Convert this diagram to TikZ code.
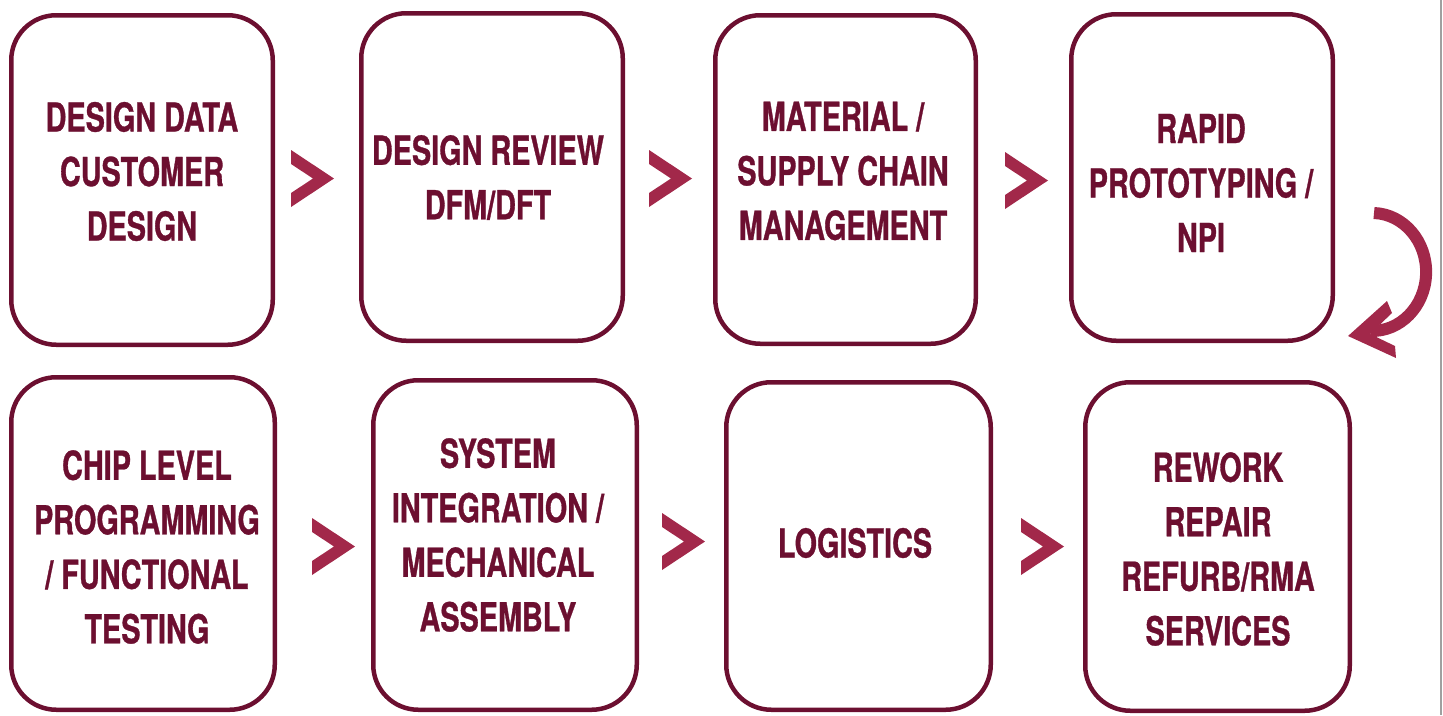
\documentclass[tikz,border=0pt]{standalone}
\usepackage{fontspec}
\setmainfont{TeX Gyre Heros}[FakeStretch=0.72, BoldFeatures={FakeBold=0.8}]
\definecolor{maroon}{HTML}{6C0F30}
\definecolor{chevc}{HTML}{A2284A}
\definecolor{edgegray}{HTML}{A0A0A0}
\tikzset{
  stepbox/.style={draw=maroon, line width=4.5pt, rounded corners=45pt, rectangle, inner sep=0pt},
  steptext/.style={text=maroon, font=\bfseries\fontsize{40}{54.5}\selectfont, align=center, inner sep=0pt},
  chevron/.pic={\fill[chevc] (0,0)--(43,28.5)--(0,57)--(0,43)--(22,28.5)--(0,14)--cycle;}
}
\begin{document}
\begin{tikzpicture}[x=1pt,y=-1pt]
\useasboundingbox (0,0) rectangle (1443,715);
% boxes
\node[stepbox, minimum width=261.5pt, minimum height=329.5pt] (b1) at (142,180) {};
\node[stepbox, minimum width=261.5pt, minimum height=327.5pt] (b2) at (492,177) {};
\node[stepbox, minimum width=260.5pt, minimum height=328.5pt] (b3) at (845.5,179.5) {};
\node[stepbox, minimum width=261.5pt, minimum height=326.5pt] (b4) at (1202,177.5) {};
\node[stepbox, minimum width=263.5pt, minimum height=332.5pt] (b5) at (143,543.5) {};
\node[stepbox, minimum width=263.5pt, minimum height=329.5pt] (b6) at (505,545) {};
\node[stepbox, minimum width=264.5pt, minimum height=327.5pt] (b7) at (858.5,546) {};
\node[stepbox, minimum width=264.5pt, minimum height=328.5pt] (b8) at (1217.5,546.5) {};
% texts
\node[steptext] (t1) at (142,171.5) {DESIGN DATA\\CUSTOMER\\DESIGN};
\node[steptext] (t2) at (488,177.5) {DESIGN REVIEW\\DFM/DFT};
\node[steptext] (t3) at (843,171) {MATERIAL /\\SUPPLY CHAIN\\MANAGEMENT};
\node[steptext] (t4) at (1201,183) {RAPID\\PROTOTYPING /\\NPI};
\node[steptext] (t5) at (147,547) {CHIP LEVEL\\PROGRAMMING\\/ FUNCTIONAL\\TESTING};
\node[steptext] (t6) at (498,535) {SYSTEM\\INTEGRATION /\\MECHANICAL\\ASSEMBLY};
\node[steptext] (t7) at (855,543) {LOGISTICS};
\node[steptext] (t8) at (1218,549) {REWORK\\REPAIR\\REFURB/RMA\\SERVICES};
% chevrons
\pic (c1) at (291,150) {chevron};
\pic (c2) at (649,150) {chevron};
\pic (c3) at (1005,152) {chevron};
\pic (c4) at (312,518) {chevron};
\pic (c5) at (662,513) {chevron};
\pic (c6) at (1021,518) {chevron};
% curved arrow
\coordinate (arcstart) at (1374,213);
\draw[chevc, line width=12pt] (arcstart) arc[start angle=-88, end angle=92, x radius=54, y radius=59];
\fill[chevc] (1348,336) -- (1387,301) -- (1392,313) -- (1370,334) -- (1395,346) -- (1396,358) -- cycle;
% right edge line
\coordinate (et) at (1441,0);
\coordinate (eb) at (1441,715);
\draw[edgegray, line width=1.5pt] (et) -- (eb);
\end{tikzpicture}
\end{document}
